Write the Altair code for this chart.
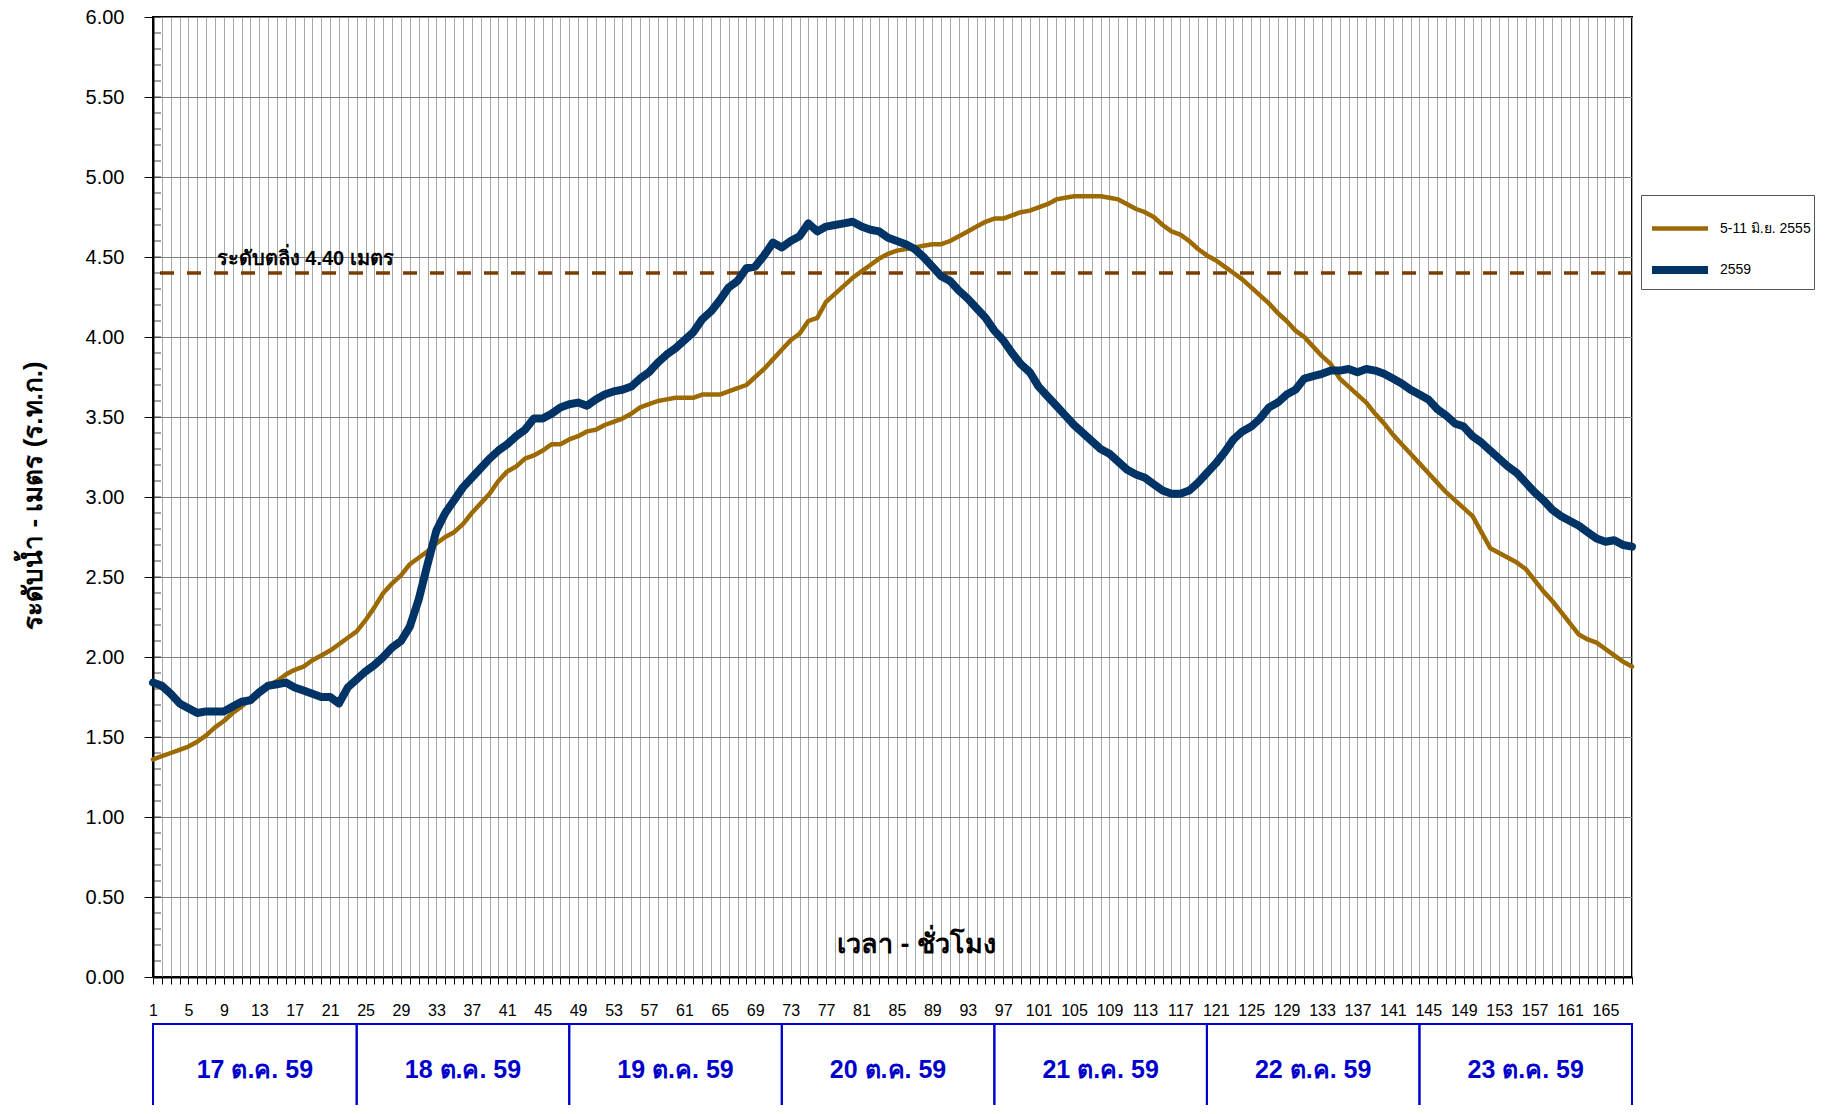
import altair as alt
import pandas as pd

# ---------------- data ----------------
hours = list(range(1, 169))

level_2555 = [
    1.36, 1.38, 1.40, 1.42, 1.44, 1.47, 1.51, 1.56, 1.60, 1.65,
    1.69, 1.74, 1.78, 1.82, 1.85, 1.89, 1.92, 1.94, 1.98, 2.01,
    2.04, 2.08, 2.12, 2.16, 2.23, 2.31, 2.40, 2.46, 2.51, 2.58,
    2.62, 2.66, 2.71, 2.75, 2.78, 2.83, 2.90, 2.96, 3.02, 3.10,
    3.16, 3.19, 3.24, 3.26, 3.29, 3.33, 3.33, 3.36, 3.38, 3.41,
    3.42, 3.45, 3.47, 3.49, 3.52, 3.56, 3.58, 3.60, 3.61, 3.62,
    3.62, 3.62, 3.64, 3.64, 3.64, 3.66, 3.68, 3.70, 3.75, 3.80,
    3.86, 3.92, 3.98, 4.02, 4.10, 4.12, 4.22, 4.27, 4.32, 4.37,
    4.41, 4.45, 4.49, 4.52, 4.54, 4.55, 4.56, 4.57, 4.58, 4.58,
    4.60, 4.63, 4.66, 4.69, 4.72, 4.74, 4.74, 4.76, 4.78, 4.79,
    4.81, 4.83, 4.86, 4.87, 4.88, 4.88, 4.88, 4.88, 4.87, 4.86,
    4.83, 4.80, 4.78, 4.75, 4.70, 4.66, 4.64, 4.60, 4.55, 4.51,
    4.48, 4.44, 4.40, 4.36, 4.31, 4.26, 4.21, 4.15, 4.10, 4.04,
    4.00, 3.94, 3.88, 3.83, 3.74, 3.69, 3.64, 3.59, 3.52, 3.46,
    3.39, 3.33, 3.27, 3.21, 3.15, 3.09, 3.03, 2.98, 2.93, 2.88,
    2.78, 2.68, 2.65, 2.62, 2.59, 2.55, 2.48, 2.41, 2.35, 2.28,
    2.21, 2.14, 2.11, 2.09, 2.05, 2.01, 1.97, 1.94,
]

level_2559 = [
    1.84, 1.82, 1.77, 1.71, 1.68, 1.65, 1.66, 1.66, 1.66, 1.69,
    1.72, 1.73, 1.78, 1.82, 1.83, 1.84, 1.81, 1.79, 1.77, 1.75,
    1.75, 1.71, 1.81, 1.86, 1.91, 1.95, 2.00, 2.06, 2.10, 2.19,
    2.36, 2.58, 2.79, 2.90, 2.98, 3.06, 3.12, 3.18, 3.24, 3.29,
    3.33, 3.38, 3.42, 3.49, 3.49, 3.52, 3.56, 3.58, 3.59, 3.57,
    3.61, 3.64, 3.66, 3.67, 3.69, 3.74, 3.78, 3.84, 3.89, 3.93,
    3.98, 4.03, 4.11, 4.16, 4.23, 4.31, 4.35, 4.43, 4.44, 4.51,
    4.59, 4.56, 4.60, 4.63, 4.71, 4.66, 4.69, 4.70, 4.71, 4.72,
    4.69, 4.67, 4.66, 4.62, 4.60, 4.58, 4.55, 4.50, 4.44, 4.38,
    4.35, 4.29, 4.24, 4.18, 4.12, 4.04, 3.98, 3.90, 3.83, 3.78,
    3.69, 3.63, 3.57, 3.51, 3.45, 3.40, 3.35, 3.30, 3.27, 3.22,
    3.17, 3.14, 3.12, 3.08, 3.04, 3.02, 3.02, 3.04, 3.09, 3.15,
    3.21, 3.28, 3.36, 3.41, 3.44, 3.49, 3.56, 3.59, 3.64, 3.67,
    3.74, 3.755, 3.77, 3.79, 3.79, 3.80, 3.78, 3.80, 3.79, 3.77,
    3.74, 3.71, 3.67, 3.64, 3.61, 3.55, 3.51, 3.46, 3.44, 3.38,
    3.34, 3.29, 3.24, 3.19, 3.15, 3.09, 3.03, 2.98, 2.92, 2.88,
    2.85, 2.82, 2.78, 2.74, 2.72, 2.73, 2.70, 2.69,
]

series_names = ["5-11 มิ.ย. 2555", "2559"]
series_colors = ["#9C6A00", "#003366"]
series_widths = [4.5, 8]

bank_level = [4.40]
bank_label = ["ระดับตลิ่ง 4.40 เมตร"]
bank_label_x = [8.2]
bank_label_y = [4.49]

x_title = ["เวลา - ชั่วโมง"]
x_title_x = [87.2]
x_title_y = [0.20]
y_title = "ระดับน้ำ - เมตร (ร.ท.ก.)"

day_labels = ["17 ต.ค. 59", "18 ต.ค. 59", "19 ต.ค. 59", "20 ต.ค. 59",
              "21 ต.ค. 59", "22 ต.ค. 59", "23 ต.ค. 59"]
day_starts = [1, 24, 48, 72, 96, 120, 144]
day_ends = [24, 48, 72, 96, 120, 144, 168]
day_box_top = -0.294
day_box_bottom = -0.85
day_label_y = -0.58

y_major_ticks = [0.0, 0.5, 1.0, 1.5, 2.0, 2.5, 3.0, 3.5, 4.0, 4.5, 5.0, 5.5, 6.0]
y_minor_ticks = [round(v / 10, 1) for v in range(0, 61)]
x_label_ticks = list(range(1, 166, 4))

# ---------------- tables ----------------
df = pd.concat([
    pd.DataFrame({"hour": hours, "level": level_2555, "series": series_names[0], "ord": 0}),
    pd.DataFrame({"hour": hours, "level": level_2559, "series": series_names[1], "ord": 1}),
])
bank_df = pd.DataFrame({"y": bank_level})
bank_text_df = pd.DataFrame({"x": bank_label_x, "y": bank_label_y, "t": bank_label})
xtitle_df = pd.DataFrame({"x": x_title_x, "y": x_title_y, "t": x_title})
days_df = pd.DataFrame({
    "x": day_starts, "x2": day_ends,
    "mid": [(a + b) / 2 for a, b in zip(day_starts, day_ends)],
    "label": day_labels,
})
minor_df = pd.DataFrame({"x": [hours[0]] * len(y_minor_ticks), "y": y_minor_ticks})

xscale = alt.Scale(domain=[hours[0], hours[-1]], nice=False, zero=False)
yscale = alt.Scale(domain=[0, 6], nice=False, zero=False)

label_set = ",".join(str(v) for v in x_label_ticks)
x_axis = alt.Axis(
    values=hours, tickCount=400, format="d", grid=True, gridColor="#a8a8a8", gridWidth=1,
    tickSize=7, tickColor="#000000", tickWidth=1,
    domainColor="#000000", domainWidth=2,
    labelExpr=f"indexof([{label_set}], datum.value) >= 0 ? datum.label : ''",
    labelFontSize=16, labelPadding=18, labelColor="#000000",
    labelOverlap=False, labelFlush=False, title=None,
)
y_axis = alt.Axis(
    values=y_major_ticks, format=".2f", grid=True, gridColor="#7f7f7f", gridWidth=1,
    tickSize=9, tickColor="#000000", domainColor="#000000", domainWidth=2,
    labelFontSize=20, labelPadding=20, labelColor="#000000",
    title=y_title, titleFontSize=26, titleFontWeight="bold", titleColor="#000000",
    titleX=-120, titleY=478, titleAngle=-90, titleAlign="center", titleBaseline="middle",
)

lines = alt.Chart(df).mark_line(strokeJoin="round", strokeCap="round").encode(
    x=alt.X("hour:Q", scale=xscale, axis=x_axis),
    y=alt.Y("level:Q", scale=yscale, axis=y_axis),
    color=alt.Color("series:N", scale=alt.Scale(domain=series_names, range=series_colors), title=None),
    strokeWidth=alt.StrokeWidth("series:N", scale=alt.Scale(domain=series_names, range=series_widths), title=None),
    order=alt.Order("ord:Q"),
)

bank_line = alt.Chart(bank_df).mark_rule(
    color="#7A3D00", strokeWidth=3.5, strokeDash=[14, 13]
).encode(y=alt.Y("y:Q", scale=yscale))

bank_text = alt.Chart(bank_text_df).mark_text(
    align="left", baseline="middle", fontSize=20, fontWeight="bold", color="#000000"
).encode(x=alt.X("x:Q", scale=xscale), y=alt.Y("y:Q", scale=yscale), text="t:N")

xtitle_text = alt.Chart(xtitle_df).mark_text(
    align="center", baseline="middle", fontSize=27, fontWeight="bold", color="#000000"
).encode(x=alt.X("x:Q", scale=xscale), y=alt.Y("y:Q", scale=yscale), text="t:N")

minor_ticks = alt.Chart(minor_df).mark_tick(
    orient="horizontal", size=8, thickness=1, xOffset=4, color="#000000"
).encode(x=alt.X("x:Q", scale=xscale), y=alt.Y("y:Q", scale=yscale))

day_boxes = alt.Chart(days_df).mark_rect(
    fill="#ffffff", fillOpacity=0, stroke="#0000CC", strokeWidth=2
).encode(
    x=alt.X("x:Q", scale=xscale), x2="x2:Q",
    y=alt.datum(day_box_top, scale=yscale), y2=alt.datum(day_box_bottom),
)

day_text = alt.Chart(days_df).mark_text(
    align="center", baseline="middle", fontSize=25, fontWeight="bold", color="#0000CC"
).encode(
    x=alt.X("mid:Q", scale=xscale), y=alt.datum(day_label_y), text="label:N"
)

chart = alt.layer(
    bank_line, lines, minor_ticks, bank_text, xtitle_text, day_boxes, day_text
).properties(
    width=1479, height=960,
    autosize=alt.AutoSizeParams(type="none"),
    padding={"left": 145, "top": 9, "right": 185, "bottom": 128},
).configure(
    font="Liberation Sans",
).configure_view(
    stroke="#000000", strokeWidth=2,
).configure_legend(
    orient="none", legendX=1488, legendY=178,
    strokeColor="#555555", fillColor="#ffffff", padding=3,
    symbolType="stroke", symbolSize=3136, rowPadding=-4, symbolOffset=4,
    labelFontSize=14, labelColor="#000000", labelOffset=8,
)

chart.save("out.html", embed_options={"renderer": "svg", "actions": False})
